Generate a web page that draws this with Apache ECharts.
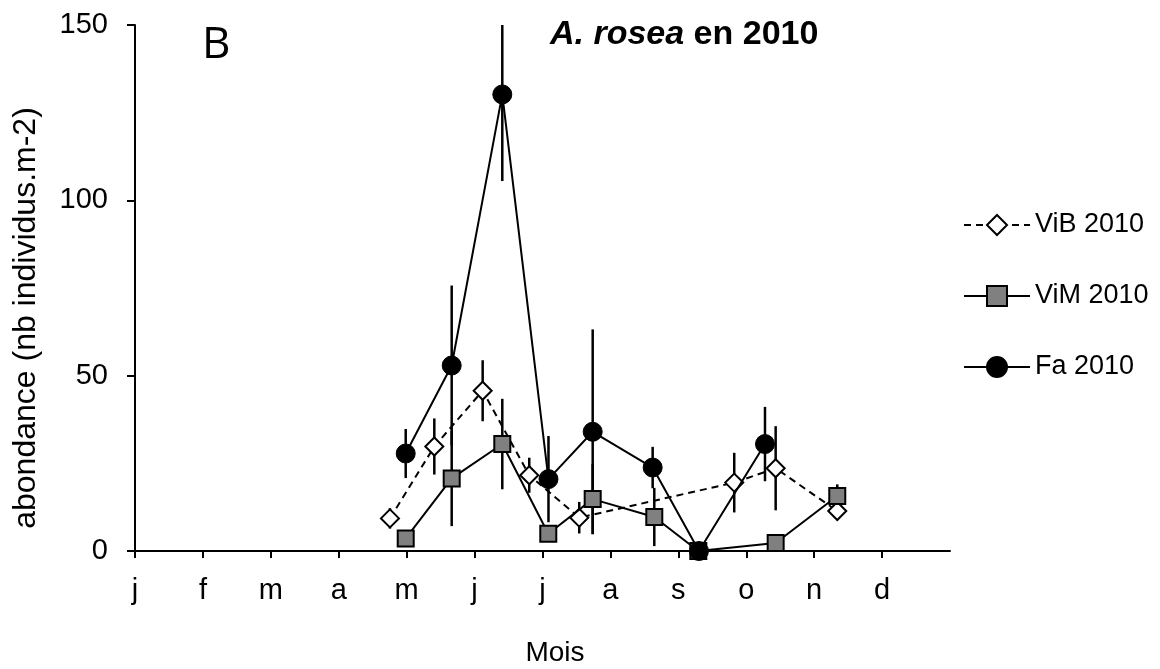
<!DOCTYPE html>
<html>
<head>
<meta charset="utf-8">
<script src="https://cdn.jsdelivr.net/npm/echarts@6/dist/echarts.min.js"></script>
<style>
html,body{margin:0;padding:0;background:#fff;}
#c{width:1160px;height:669px;}
</style>
</head>
<body>
<div id="c"></div>
<script>
// Month tick labels (axis in month units, 0 = 1 January)
const monthLabels = ['j','f','m','a','m','j','j','a','s','o','n','d'];

// ViB 2010
const vibX   = [3.754, 4.407, 5.119, 5.805, 6.541, 8.823, 9.433, 10.340];
const vibY   = [9.3, 29.8, 45.7, 21.6, 9.5, 19.5, 23.6, 11.4];
const vibErr = [2.9, 8.0, 8.7, 5.0, 4.5, 8.5, 12.0, 2.6];

// ViM 2010
const vimX   = [3.986, 4.663, 5.408, 6.085, 6.739, 7.646, 8.294, 9.433, 10.340];
const vimY   = [3.6, 20.7, 30.5, 4.9, 14.8, 9.7, 0, 2.3, 15.7];
const vimErr = [0, 13.6, 12.9, 0, 10.0, 8.3, 0, 0, 3.3];

// Fa 2010
const faX   = [3.986, 4.663, 5.408, 6.088, 6.739, 7.622, 8.304, 9.276];
const faY   = [27.8, 52.9, 130.2, 20.5, 34.0, 23.8, 0, 30.5];
const faErr = [7.0, 22.8, 24.7, 12.3, 29.2, 5.9, 0, 10.6];

const yMin = 0, yMax = 150, yStep = 50;
const FONT = "'Liberation Sans', Arial, sans-serif";

function pts(xs, ys){ return xs.map((x,i)=>[x, ys[i]]); }
function errs(xs, ys, es){
  return xs.map((x,i)=>[x, Math.max(yMin, ys[i]-es[i]), Math.min(yMax, ys[i]+es[i])]);
}

const allErr = [].concat(errs(vibX,vibY,vibErr), errs(vimX,vimY,vimErr), errs(faX,faY,faErr));

const chart = echarts.init(document.getElementById('c'), null, {renderer:'canvas'});
chart.setOption({
  animation:false,
  backgroundColor:'#ffffff',
  textStyle:{fontFamily:FONT},
  title:{
    text:'{a|A. rosea}{b| en 2010}',
    left:545, top:13,
    textStyle:{rich:{
      a:{fontFamily:FONT, fontSize:34, fontWeight:'bold', fontStyle:'italic', color:'#000'},
      b:{fontFamily:FONT, fontSize:34, fontWeight:'bold', color:'#000'}
    }}
  },
  graphic:[
    {type:'text', left:202, top:23, style:{text:'B', font:"44px 'Open Sans', 'Noto Sans', sans-serif", fill:'#000'}},
    {type:'text', x:26, y:318, rotation:Math.PI/2,
      style:{text:'abondance (nb individus.m-2)', font:"32px 'Liberation Sans', Arial, sans-serif", fill:'#000', align:'center', verticalAlign:'middle'}},
    {type:'text', x:555, y:653,
      style:{text:'Mois', font:"28px 'Liberation Sans', Arial, sans-serif", fill:'#000', align:'center', verticalAlign:'middle'}}
  ],
  legend:{
    orient:'vertical', left:958, top:206,
    itemWidth:66, itemHeight:25, itemGap:43,
    textStyle:{fontFamily:FONT, fontSize:27, color:'#000', lineHeight:28, padding:[0,0,0,0]},
    data:['ViB 2010','ViM 2010','Fa 2010']
  },
  grid:{left:135, right:210, top:25, bottom:118, containLabel:false},
  xAxis:{
    type:'value', min:0, max:12, interval:1,
    splitLine:{show:false},
    axisLine:{show:true, lineStyle:{color:'#000', width:2}},
    axisTick:{show:true, length:7, lineStyle:{color:'#000', width:2}, customValues:[0,1,2,3,4,5,6,7,8,9,10,11]},
    axisLabel:{show:true, margin:25, fontSize:29, color:'#000', fontFamily:FONT,
      customValues:[0,1,2,3,4,5,6,7,8,9,10,11],
      formatter:(v)=> monthLabels[Math.round(v)] || ''}
  },
  yAxis:{
    type:'value', min:yMin, max:yMax, interval:yStep,
    splitLine:{show:false},
    axisLine:{show:true, lineStyle:{color:'#000', width:2}},
    axisTick:{show:true, length:8, lineStyle:{color:'#000', width:2}},
    axisLabel:{margin:27, fontSize:29, color:'#000', fontFamily:FONT}
  },
  series:[
    {
      type:'custom', name:'err', z:2, silent:true,
      renderItem:function(params, api){
        const x = api.value(0);
        const p1 = api.coord([x, api.value(1)]);
        const p2 = api.coord([x, api.value(2)]);
        return {type:'line', shape:{x1:p1[0], y1:p1[1], x2:p2[0], y2:p2[1]},
                style:{stroke:'#000', lineWidth:2.5}};
      },
      encode:{x:0, y:[1,2]},
      data:allErr
    },
    {
      name:'ViB 2010', type:'line', z:3,
      data:pts(vibX, vibY),
      symbol:'diamond', symbolSize:18,
      lineStyle:{color:'#000', width:2, type:[7,5]},
      itemStyle:{color:'#ffffff', borderColor:'#000', borderWidth:2},
      clip:false
    },
    {
      name:'ViM 2010', type:'line', z:4,
      data:pts(vimX, vimY),
      symbol:'rect', symbolSize:16,
      lineStyle:{color:'#000', width:2, type:'solid'},
      itemStyle:{color:'#808080', borderColor:'#000', borderWidth:2},
      clip:false
    },
    {
      name:'Fa 2010', type:'line', z:5,
      data:pts(faX, faY),
      symbol:'circle', symbolSize:19,
      lineStyle:{color:'#000', width:2, type:'solid'},
      itemStyle:{color:'#000', borderColor:'#000', borderWidth:1},
      clip:false
    }
  ]
});
</script>
</body>
</html>
